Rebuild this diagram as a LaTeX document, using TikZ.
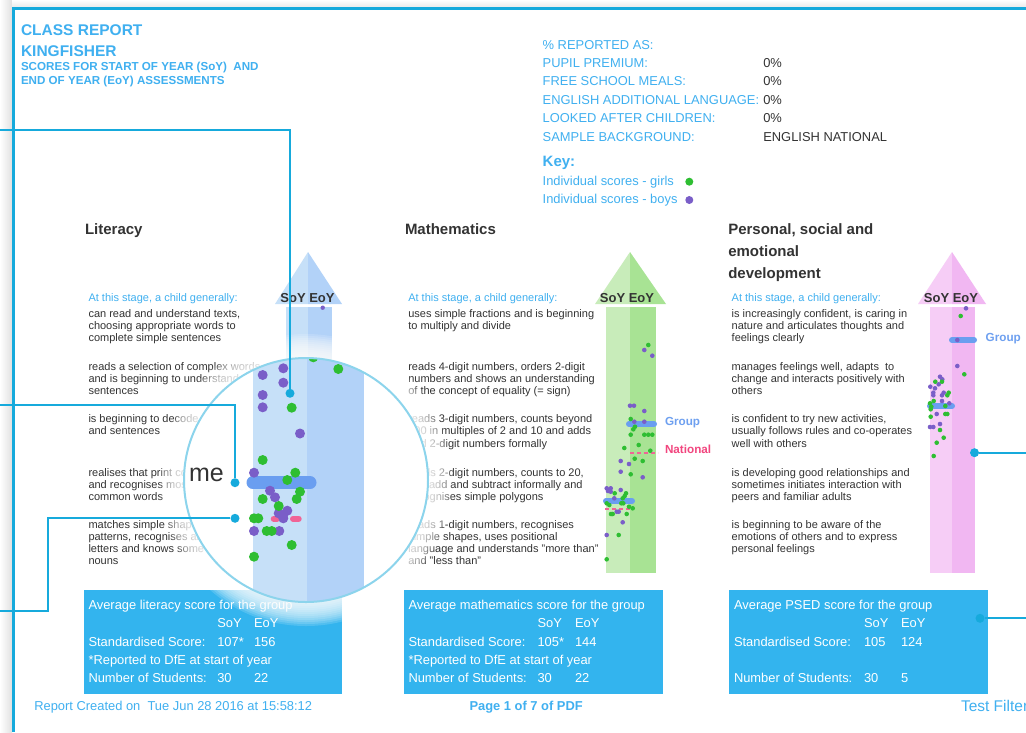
\documentclass[tikz,border=0pt]{standalone}
\usepackage{fontspec}
\setmainfont{Liberation Sans}
\usetikzlibrary{calc}
\definecolor{hblue}{RGB}{64,176,240}
\definecolor{frame}{RGB}{22,170,220}
\definecolor{dark}{RGB}{51,51,51}
\definecolor{boxblue}{RGB}{51,180,238}
\definecolor{girl}{RGB}{46,190,50}
\definecolor{boy}{RGB}{122,94,200}
\definecolor{grp}{RGB}{106,158,240}
\definecolor{natl}{RGB}{240,100,150}
\definecolor{grplbl}{RGB}{110,160,240}
\definecolor{natlbl}{RGB}{242,70,127}
\definecolor{litA}{RGB}{198,224,248}
\definecolor{litB}{RGB}{178,210,248}
\definecolor{matA}{RGB}{200,236,186}
\definecolor{matB}{RGB}{168,227,148}
\definecolor{psA}{RGB}{246,205,246}
\definecolor{psB}{RGB}{241,183,242}
\definecolor{magring}{RGB}{140,212,236}
\newcommand\fsz[2]{\fontsize{#1}{#2}\selectfont}
\newcommand\tlines[4]{\foreach \tx [count=\i] in {#4} {\node[desc] (#1-\i) at ({#2},{#3+(\i-1)*12.2}) {\tx};}}
\newcommand\uparrowcol[9]{% hl split hr sl sr colA colB
  \fill[#6] (#1,304) -- (#2,252) -- (#2,304) -- cycle;
  \fill[#7] (#2,304) -- (#2,252) -- (#3,304) -- cycle;
  \fill[#6] (#4,307) rectangle (#2,573);
  \fill[#7] (#2,307) rectangle (#5,573);}
\begin{document}
\begin{tikzpicture}[x=1pt,y=-1pt,
 lbl/.style={inner sep=0pt, outer sep=0pt, anchor=base west},
 desc/.style={lbl, font=\fsz{11}{12}, text=dark},
 stagetxt/.style={lbl, font=\fsz{11}{12}, text=hblue},
 subj/.style={lbl, font=\bfseries\fsz{15}{17}, text=dark},
 info/.style={lbl, font=\fsz{12.9}{14}, text=hblue},
 infoval/.style={lbl, font=\fsz{12.9}{14}, text=dark},
 boxtxt/.style={lbl, font=\fsz{12.9}{14}, text=white},
 hdr/.style={lbl, font=\bfseries\fsz{15.5}{17}, text=hblue},
 hdrsmall/.style={lbl, font=\bfseries\fsz{11.6}{12}, text=hblue},
 soyeoy/.style={inner sep=0pt, anchor=base, font=\bfseries\fsz{13}{14}, text=dark},
 grplabel/.style={lbl, font=\bfseries\fsz{11.7}{13}, text=grplbl},
 natlabel/.style={lbl, font=\bfseries\fsz{11.7}{13}, text=natlbl},
 avgbox/.style={fill=boxblue},
 conn/.style={draw=frame, line width=2.2pt},
 cdot/.style={circle, fill=frame, inner sep=0pt, minimum size=9pt},
 grpbar/.style={draw=grp, line width=6pt, line cap=round},
 natbar/.style={draw=natl, line width=2.5pt, dash pattern=on 4pt off 3pt},
]
\useasboundingbox (0,0) rectangle (1026,732);
\clip (0,0) rectangle (1026,732);
\fill[white] (0,0) rectangle (1026,732);
% page shadow and frame
\shade[left color=white, right color=black!12] (0,0) rectangle (12,732);
\shade[top color=white, bottom color=black!8] (12,0) rectangle (1026,7);
\draw[frame, line width=3pt] (13.2,732) -- (13.2,8) -- (1026,8);

% header
\node[hdr] (h1) at (21,35) {CLASS REPORT};
\node[hdr] (h2) at (21,56) {KINGFISHER};
\node[hdrsmall] (h3) at (21,70.7) {SCORES FOR START OF YEAR (SoY)\ \ AND};
\node[hdrsmall] (h4) at (21,84) {END OF YEAR (EoY) ASSESSMENTS};

\node[info] (r0) at (542.7,49) {\% REPORTED AS:};
\node[info] (r1) at (542.7,67.3) {PUPIL PREMIUM:};
\node[info] (r2) at (542.7,85.7) {FREE SCHOOL MEALS:};
\node[info] (r3) at (542.7,104) {ENGLISH ADDITIONAL LANGUAGE:};
\node[info] (r4) at (542.7,122.7) {LOOKED AFTER CHILDREN:};
\node[info] (r5) at (542.7,141) {SAMPLE BACKGROUND:};
\node[infoval] (v1) at (763.3,67.3) {0\%};
\node[infoval] (v2) at (763.3,85.7) {0\%};
\node[infoval] (v3) at (763.3,104) {0\%};
\node[infoval] (v4) at (763.3,122.7) {0\%};
\node[infoval] (v5) at (763.3,141) {ENGLISH NATIONAL};
\node[lbl, font=\bfseries\fsz{15}{16}, text=hblue] (key) at (542.7,166.7) {Key:};
\node[info] (kg) at (542.7,185.3) {Individual scores - girls};
\node[info] (kb) at (542.7,203.7) {Individual scores - boys};
\fill[girl] (689.3,181.7) circle (4pt);
\fill[boy] (689.3,200) circle (4pt);

% subject titles
\node[subj] (t1) at (85,234.3) {Literacy};
\node[subj] (t2) at (405,234.3) {Mathematics};
\node[subj] (t3a) at (728.3,234.3) {Personal, social and};
\node[subj] (t3b) at (728.3,256.7) {emotional};
\node[subj] (t3c) at (728.3,278.3) {development};

\node[stagetxt] (s1) at (88.5,301.7) {At this stage, a child generally:};
\node[stagetxt] (s2) at (408.3,301.7) {At this stage, a child generally:};
\node[stagetxt] (s3) at (731.7,301.7) {At this stage, a child generally:};

% literacy descriptors
\tlines{la}{88.5}{317.5}{{can read and understand texts,},{choosing appropriate words to},{complete simple sentences}}
\tlines{lb}{88.5}{370}{{reads a selection of complex words},{and is beginning to understand},{sentences}}
\tlines{lc}{88.5}{422.7}{{is beginning to decode words},{and sentences}}
\tlines{ld}{88.5}{476}{{realises that print co},{and recognises most},{common words}}
\tlines{le}{88.5}{528.3}{{matches simple shapes and},{patterns, recognises all},{letters and knows some},{nouns}}
% maths descriptors
\tlines{ma}{408.3}{317.5}{{uses simple fractions and is beginning},{to multiply and divide}}
\tlines{mb}{408.3}{370}{{reads 4-digit numbers, orders 2-digit},{numbers and shows an understanding},{of the concept of equality (= sign)}}
\tlines{mc}{408.3}{422.7}{{reads 3-digit numbers, counts beyond},{100 in multiples of 2 and 10 and adds},{and 2-digit numbers formally}}
\tlines{md}{408.3}{476}{{reads 2-digit numbers, counts to 20,},{can add and subtract informally and},{recognises simple polygons}}
\tlines{me}{408.3}{528.3}{{reads 1-digit numbers, recognises},{simple shapes, uses positional},{language and understands "more than"},{and "less than"}}
% PSED descriptors
\tlines{pa}{731.7}{317.5}{{is increasingly confident, is caring in},{nature and articulates thoughts and},{feelings clearly}}
\tlines{pb}{731.7}{370}{{manages feelings well, adapts\ \ to},{change and interacts positively with},{others}}
\tlines{pc}{731.7}{422.7}{{is confident to try new activities,},{usually follows rules and co-operates},{well with others}}
\tlines{pd}{731.7}{476}{{is developing good relationships and},{sometimes initiates interaction with},{peers and familiar adults}}
\tlines{pe}{731.7}{528.3}{{is beginning to be aware of the},{emotions of others and to express},{personal feelings}}

% arrows
\uparrowcol{275}{308}{342}{286}{332}{litA}{litB}{}{}
\uparrowcol{595}{630}{666}{606}{656}{matA}{matB}{}{}
\uparrowcol{918}{952}{986}{930}{975}{psA}{psB}{}{}
\node[soyeoy] (se1) at (307.5,302.7) {SoY EoY};
\node[soyeoy] (se2) at (627,302.7) {SoY EoY};
\node[soyeoy] (se3) at (951,302.7) {SoY EoY};
\fill[boy] (322.7,307.7) circle (2.2pt);

% maths marks
\draw[grpbar] (629,424) -- (654,424);
\draw[grpbar] (606,501) -- (632,501);
\draw[natbar] (630,453) -- (658,453);
\draw[natbar] (605,509) -- (633,509);
\foreach \p in {(644.3,350),(652.3,355.7),(630,405.7),(634,405.7),(644.3,411),(634.3,421.7),(644.3,421.7),(620.7,461),(629,464),(620.7,471.7),(642.7,477.3),(606.7,488.3),(610.7,488.3),(608,491),(610.7,491.7),(620.7,490),(614.3,498.3),(616.7,511.7),(618.7,511.7),(622.7,522.3),(606.7,535)}
  \fill[boy] \p circle (2.3pt);
\foreach \p in {(648.3,345),(630.7,419),(635,426.7),(633.3,429.3),(630.7,434.7),(644.3,434.7),(648.3,434.7),(652.3,434.7),(638.7,445),(624.3,448),(650.3,450.7),(634.7,458.7),(642.7,461),(630.7,474.3),(626,493.3),(624.7,496),(622.7,498.3),(614.7,493.3),(606.7,503.3),(609.3,505),(621.3,503.3),(623.3,503.3),(629,506.7),(632.7,508.3),(611,514),(612.7,514),(626.7,514),(618.7,535),(606.7,559.3)}
  \fill[girl] \p circle (2.3pt);
\node[grplabel] (g2) at (665,425) {Group};
\node[natlabel] (n2) at (665,453.3) {National};

% PSED marks
\draw[grpbar] (952,340) -- (974,340);
\draw[grpbar] (930,406) -- (952,406);
\foreach \p in {(966,308.3),(957.3,340),(957.3,366),(940,376.7),(942.3,379.3),(938.7,384.3),(930.3,386.7),(935,388.3),(933.3,392.7),(933.3,395.3),(943.7,392.7),(942,395.3),(942,401),(949.3,403.3),(936.7,414),(940,424),(930,427),(933.3,427)}
  \fill[boy] \p circle (2.3pt);
\foreach \p in {(960.7,316),(964.3,374.3),(935.3,381.7),(942,381.7),(948.7,392.7),(947.3,395.3),(933.7,401),(930,403.3),(931.3,406.7),(930.7,409.3),(945.3,406),(945.3,414),(947.3,414),(930.7,416.7),(940,430),(943.7,437.7),(936.7,442.7),(933.7,456)}
  \fill[girl] \p circle (2.3pt);
\node[grplabel] (g3) at (985.7,341) {Group};

% average boxes
\fill[avgbox] (84,590) rectangle (342,694);
\fill[avgbox] (404,590) rectangle (663,694);
\fill[avgbox] (729,590) rectangle (988,694);
\node[boxtxt] (la0) at (88.5,609.3) {Average literacy score for the group};
\node[boxtxt] (la1) at (217.3,627.7) {SoY};
\node[boxtxt] (la2) at (254,627.7) {EoY};
\node[boxtxt] (la3) at (88.5,646) {Standardised Score:};
\node[boxtxt] (la4) at (217.3,646) {107*};
\node[boxtxt] (la5) at (254,646) {156};
\node[boxtxt] (la6) at (88.5,664.3) {*Reported to DfE at start of year};
\node[boxtxt] (la7) at (88.5,682.7) {Number of Students:};
\node[boxtxt] (la8) at (217.3,682.7) {30};
\node[boxtxt] (la9) at (254,682.7) {22};

\node[boxtxt] (mb0) at (408.5,609.3) {Average mathematics score for the group};
\node[boxtxt] (mb1) at (537.5,627.7) {SoY};
\node[boxtxt] (mb2) at (575,627.7) {EoY};
\node[boxtxt] (mb3) at (408.5,646) {Standardised Score:};
\node[boxtxt] (mb4) at (537.5,646) {105*};
\node[boxtxt] (mb5) at (575,646) {144};
\node[boxtxt] (mb6) at (408.5,664.3) {*Reported to DfE at start of year};
\node[boxtxt] (mb7) at (408.5,682.7) {Number of Students:};
\node[boxtxt] (mb8) at (537.5,682.7) {30};
\node[boxtxt] (mb9) at (575,682.7) {22};

\node[boxtxt] (pb0) at (734,609.3) {Average PSED score for the group};
\node[boxtxt] (pb1) at (864,627.7) {SoY};
\node[boxtxt] (pb2) at (901,627.7) {EoY};
\node[boxtxt] (pb3) at (734,646) {Standardised Score:};
\node[boxtxt] (pb4) at (864,646) {105};
\node[boxtxt] (pb5) at (901,646) {124};
\node[boxtxt] (pb7) at (734,682.7) {Number of Students:};
\node[boxtxt] (pb8) at (864,682.7) {30};
\node[boxtxt] (pb9) at (901,682.7) {5};

% footer
\node[info] (f1) at (34.3,710.7) {Report Created on\ \ Tue Jun 28 2016 at 15:58:12};
\node[lbl, font=\bfseries\fsz{12.9}{14}, text=hblue] (f2) at (469.5,710.7) {Page 1 of 7 of PDF};
\node[lbl, font=\fsz{15.5}{17}, text=hblue] (f3) at (961,711.5) {Test Filter};

% magnifier
\coordinate (mag) at (306,480);
\foreach \k in {1,...,12}
  \draw[white, opacity=0.15, line width=\k*4pt] (mag) circle (122pt);
\fill[white] (mag) circle (122pt);
\begin{scope}
  \clip (mag) circle (122pt);
  \fill[litA] (253,340) rectangle (307,620);
  \fill[litB] (307,340) rectangle (364,620);
  \node[lbl, font=\fsz{25}{26}, text=dark] (mmag) at (189,481) {me};
  \draw[grp, line width=13pt, line cap=round] (253,482.7) -- (310,482.7);
  \draw[natl, line width=6pt, line cap=round] (273.7,518.7) -- (277,518.7);
  \draw[natl, line width=6pt, line cap=round] (293,518.7) -- (298.7,518.7);
  \draw[natl, line width=6pt, line cap=round] (326,357.3) -- (334,357.3);
  \foreach \p in {(262.7,375),(283.3,368.3),(283.3,382.7),(262.7,395),(262.7,407.3),(300,433.5),(254,472.7),(270,490.7),(275,497.3),(287.3,510.7),(283.3,515),(278.7,513.3),(283.3,518.3),(254,531),(279.3,531)}
    \fill[boy] \p circle (5pt);
  \foreach \p in {(313.3,357.3),(338.3,369),(291.7,407.7),(262.7,460),(295.3,472.7),(287.3,480),(300,491.7),(296.7,499),(262.7,499),(278.7,506),(254,518.3),(258.3,518.3),(266.7,531),(271.7,531),(291.7,545),(254,556.7)}
    \fill[girl] \p circle (5pt);
\end{scope}
\draw[magring, line width=2pt] (mag) circle (122pt);

% connectors
\coordinate (c1) at (0,130);
\coordinate (c2) at (0,405);
\coordinate (c3a) at (48,611);
\coordinate (c3b) at (0,611);
\coordinate (c4) at (1026,452.7);
\coordinate (c5) at (1026,618.3);
\node[cdot] (d1) at (290,393.3) {};
\node[cdot] (d2) at (235,482.7) {};
\node[cdot] (d3) at (235,518.3) {};
\node[cdot] (d4) at (974.5,452.7) {};
\node[cdot] (d5) at (980,618.3) {};
\draw[conn] (c1) -| (d1);
\draw[conn] (c2) -| (d2);
\draw[conn] (d3) -| (c3a) -- (c3b);
\draw[conn] (d4) -- (c4);
\draw[conn] (d5) -- (c5);
\end{tikzpicture}
\end{document}
